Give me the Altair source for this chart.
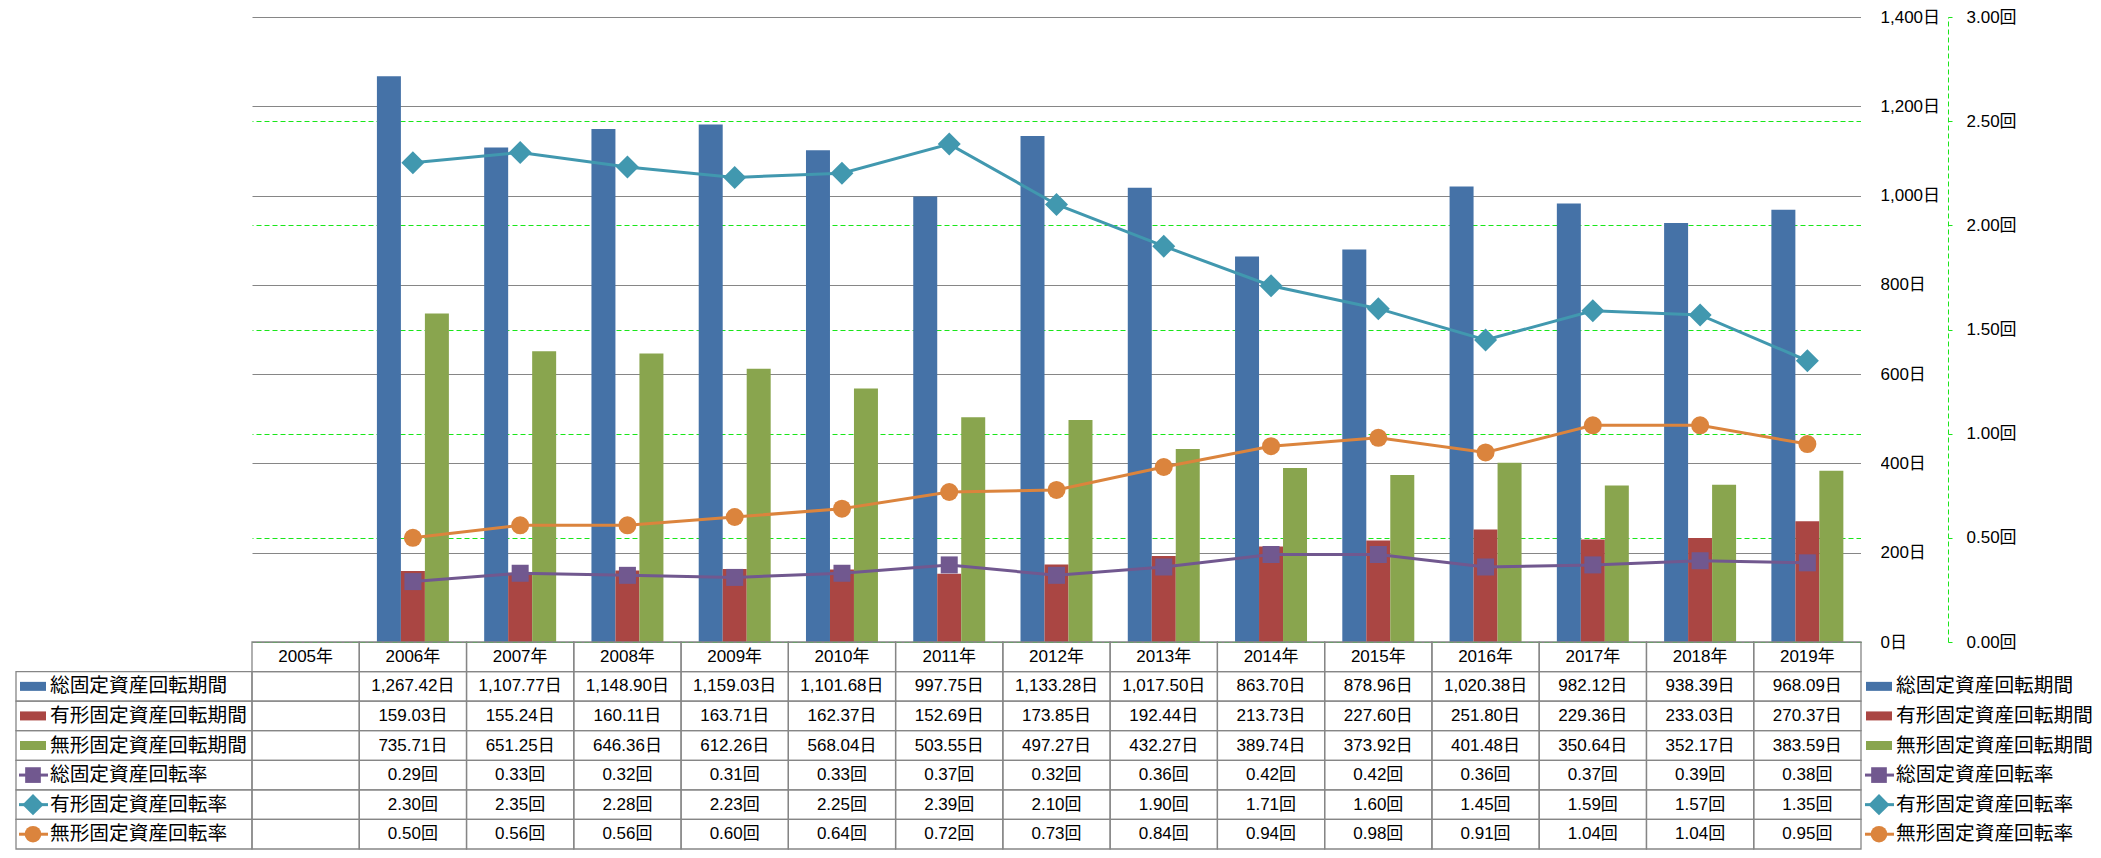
import altair as alt
import pandas as pd

# ---------------- data ----------------
years = ["2005年", "2006年", "2007年", "2008年", "2009年", "2010年", "2011年", "2012年",
         "2013年", "2014年", "2015年", "2016年", "2017年", "2018年", "2019年"]
data_years = years[1:]

series = ["総固定資産回転期間", "有形固定資産回転期間", "無形固定資産回転期間",
          "総固定資産回転率", "有形固定資産回転率", "無形固定資産回転率"]

total_period = [1267.42, 1107.77, 1148.90, 1159.03, 1101.68, 997.75, 1133.28, 1017.50,
                863.70, 878.96, 1020.38, 982.12, 938.39, 968.09]
tangible_period = [159.03, 155.24, 160.11, 163.71, 162.37, 152.69, 173.85, 192.44,
                   213.73, 227.60, 251.80, 229.36, 233.03, 270.37]
intangible_period = [735.71, 651.25, 646.36, 612.26, 568.04, 503.55, 497.27, 432.27,
                     389.74, 373.92, 401.48, 350.64, 352.17, 383.59]
total_rate = [0.29, 0.33, 0.32, 0.31, 0.33, 0.37, 0.32, 0.36, 0.42, 0.42, 0.36, 0.37, 0.39, 0.38]
tangible_rate = [2.30, 2.35, 2.28, 2.23, 2.25, 2.39, 2.10, 1.90, 1.71, 1.60, 1.45, 1.59, 1.57, 1.35]
intangible_rate = [0.50, 0.56, 0.56, 0.60, 0.64, 0.72, 0.73, 0.84, 0.94, 0.98, 0.91, 1.04, 1.04, 0.95]

day_ticks = [0, 200, 400, 600, 800, 1000, 1200, 1400]
rate_ticks = [0, 0.5, 1.0, 1.5, 2.0, 2.5, 3.0]

# ---------------- styles ----------------
colors = ["#4572A7", "#AA4643", "#89A54E", "#71588F", "#4198AF", "#DB843D"]
shapes = ["square", "diamond", "circle"]
sizes = [289, 529, 324]
FONT_NUM = "Liberation Sans, Noto Sans CJK JP, sans-serif"
FONT_JP = "Noto Sans CJK JP, sans-serif"
GRAY = "#868686"
GREEN = "#1AE61A"

PLOT_W, PLOT_H = 1609, 625
TABLE_H = 207
LEFT_W = 244
LEGEND_W = 232

period_lists = [total_period, tangible_period, intangible_period]
rate_lists = [total_rate, tangible_rate, intangible_rate]

bar_df = pd.DataFrame([{"year": y, "series": s, "value": v}
                       for s, vals in zip(series[:3], period_lists)
                       for y, v in zip(data_years, vals)])
rate_df = pd.DataFrame([{"year": y, "series": s, "value": v}
                        for s, vals in zip(series[3:], rate_lists)
                        for y, v in zip(data_years, vals)])

# ---------------- main plot ----------------
x_main = alt.X("year:N", scale=alt.Scale(type="band", domain=years, paddingInner=0.329,
                                         paddingOuter=0.1645), axis=None)

days_axis = alt.Axis(orient="right", values=day_ticks,
                     labelExpr="format(datum.value, ',') + '日'",
                     grid=True, gridColor=GRAY, gridWidth=1,
                     domain=True, domainColor=GRAY, domainWidth=1,
                     ticks=False, labelPadding=19, labelAlign="left", labelBaseline="middle",
                     labelFont=FONT_NUM, labelFontSize=17, labelColor="black", title=None)

rate_axis = alt.Axis(orient="right", offset=87, values=rate_ticks,
                     labelExpr="format(datum.value, '.2f') + '回'",
                     grid=True, gridColor=GREEN, gridDash=[5, 3], gridWidth=1,
                     gridOpacity={"condition": {"test": "datum.value >= 3", "value": 0}, "value": 1},
                     domain=True, domainColor=GREEN, domainDash=[5, 3], domainWidth=1,
                     ticks=True, tickColor=GREEN, tickSize=4, tickWidth=1,
                     labelPadding=14, labelAlign="left", labelBaseline="middle",
                     labelFont=FONT_NUM, labelFontSize=17, labelColor="black", title=None)

rate_scale = alt.Scale(domain=[0, 3], nice=False, zero=True)
rate_color = alt.Scale(domain=series[3:], range=colors[3:])

bars = alt.Chart(bar_df).mark_bar().encode(
    x=x_main,
    xOffset=alt.XOffset("series:N", scale=alt.Scale(domain=series[:3], paddingInner=0, paddingOuter=0)),
    y=alt.Y("value:Q", scale=alt.Scale(domain=[0, 1400], nice=False, zero=True), axis=days_axis),
    color=alt.Color("series:N", scale=alt.Scale(domain=series[:3], range=colors[:3]), legend=None),
)

rate_line = alt.Chart(rate_df).mark_line(strokeWidth=3).encode(
    x=x_main,
    y=alt.Y("value:Q", scale=rate_scale, axis=rate_axis),
    color=alt.Color("series:N", scale=rate_color, legend=None),
)
rate_layers = [rate_line]
for name, shp, sz in zip(series[3:], shapes, sizes):
    rate_layers.append(
        alt.Chart(rate_df).transform_filter(alt.datum.series == name)
        .mark_point(shape=shp, size=sz, filled=True, opacity=1)
        .encode(x=x_main,
                y=alt.Y("value:Q", scale=rate_scale, axis=rate_axis),
                color=alt.Color("series:N", scale=rate_color, legend=None))
    )

main = alt.layer(bars, alt.layer(*rate_layers)).resolve_scale(
    y="independent", color="independent").properties(width=PLOT_W, height=PLOT_H)


def blank(width, height):
    return alt.Chart(pd.DataFrame({"v": [0]})).mark_point(opacity=0).properties(
        width=width, height=height, view=alt.ViewBackground(fill="white", stroke=None))


# ---------------- data table ----------------
row_keys = ["header"] + series
cells = [{"year": y, "row": "header", "text": y} for y in years]
for s, vals, unit in zip(series, period_lists + rate_lists, ["日"] * 3 + ["回"] * 3):
    lookup = dict(zip(data_years, vals))
    for y in years:
        cells.append({"year": y, "row": s,
                      "text": (f"{lookup[y]:,.2f}{unit}" if y in lookup else "")})
cell_df = pd.DataFrame(cells)

row_scale = alt.Scale(type="band", domain=row_keys, paddingInner=0, paddingOuter=0)
col_scale = alt.Scale(type="band", domain=years, paddingInner=0, paddingOuter=0)

table_rect = alt.Chart(cell_df).mark_rect(filled=False, color=GRAY, strokeWidth=1.3).encode(
    x=alt.X("year:N", scale=col_scale, axis=None),
    y=alt.Y("row:N", scale=row_scale, axis=None),
)
table_text = alt.Chart(cell_df).mark_text(font=FONT_NUM, fontSize=17, color="black",
                                          align="center", baseline="middle").encode(
    x=alt.X("year:N", scale=col_scale, axis=None, bandPosition=0.5),
    y=alt.Y("row:N", scale=row_scale, axis=None, bandPosition=0.5),
    text="text:N",
)
table = alt.layer(table_rect, table_text).properties(width=PLOT_W, height=TABLE_H)

label_df = pd.DataFrame({"row": series, "kind": ["bar"] * 3 + ["line"] * 3})
icon_color = alt.Color("row:N", scale=alt.Scale(domain=series, range=colors), legend=None)


def label_column(width, icon_x0, boxed):
    ly = alt.Y("row:N", scale=row_scale, axis=None, bandPosition=0.5)
    layers = []
    if boxed:
        layers.append(
            alt.Chart(label_df).mark_rect(filled=False, color=GRAY, strokeWidth=1.3).encode(
                y=alt.Y("row:N", scale=row_scale, axis=None),
                x=alt.value(icon_x0 - 4), x2=alt.value(width)))
    layers.append(
        alt.Chart(label_df).transform_filter(alt.datum.kind == "bar")
        .mark_rule(strokeWidth=9, strokeCap="butt")
        .encode(y=ly, x=alt.value(icon_x0), x2=alt.value(icon_x0 + 26), color=icon_color))
    layers.append(
        alt.Chart(label_df).transform_filter(alt.datum.kind == "line")
        .mark_rule(strokeWidth=3, strokeCap="butt")
        .encode(y=ly, x=alt.value(icon_x0 - 1), x2=alt.value(icon_x0 + 28), color=icon_color))
    for name, shp, sz in zip(series[3:], shapes, sizes):
        layers.append(
            alt.Chart(label_df).transform_filter(alt.datum.row == name)
            .mark_point(shape=shp, size=sz * 0.85, filled=True, opacity=1)
            .encode(y=ly, x=alt.value(icon_x0 + 13), color=icon_color))
    layers.append(
        alt.Chart(label_df).mark_text(align="left", baseline="middle", font=FONT_JP,
                                      fontSize=19.7, color="black")
        .encode(y=ly, x=alt.value(icon_x0 + 30), text="row:N"))
    return alt.layer(*layers).properties(width=width, height=TABLE_H,
                                         view=alt.ViewBackground(stroke=None))


left_labels = label_column(LEFT_W, 12, True)
legend_col = label_column(LEGEND_W, 5, False)

chart = alt.concat(
    blank(LEFT_W, PLOT_H), main, blank(20, PLOT_H),
    left_labels, table, legend_col,
    columns=3, spacing=0, bounds="flush", align="each",
    padding={"left": 0, "top": 0, "right": 0, "bottom": 0},
    background="white",
).configure_view(stroke=None)

chart.save("out.html", embed_options={"renderer": "svg", "actions": False})
